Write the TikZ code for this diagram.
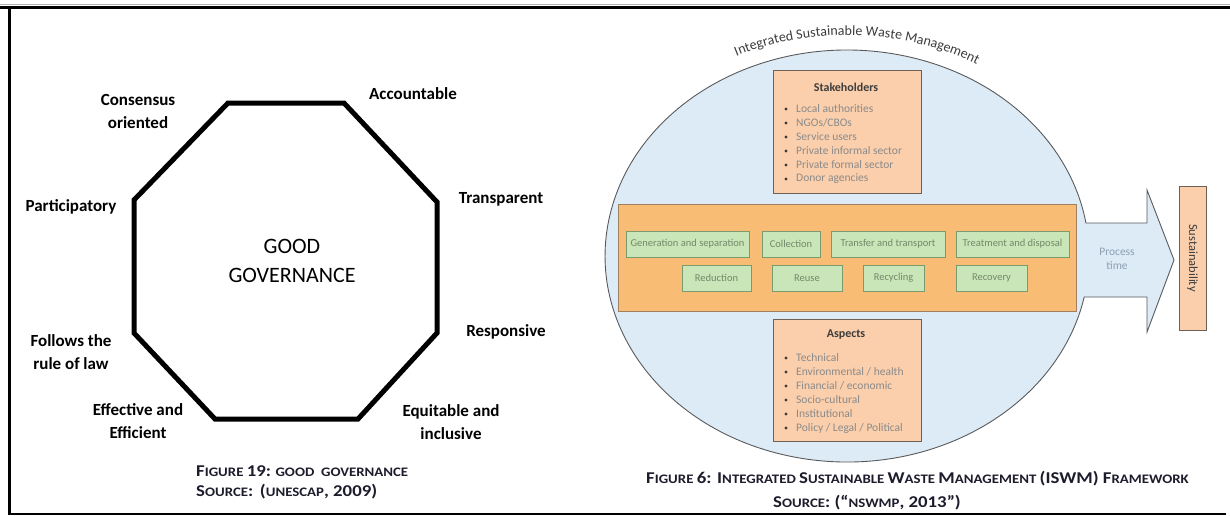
\documentclass[tikz,border=0pt]{standalone}
\usepackage{fontspec}
\setmainfont{Carlito}
\newfontfamily\capfont[FakeStretch=1.14]{Carlito Bold}
\usetikzlibrary{decorations.text}
\definecolor{ellfill}{HTML}{DDEBF7}
\definecolor{ellline}{HTML}{5A5A5A}
\definecolor{bandfill}{HTML}{F8BC74}
\definecolor{bandline}{HTML}{A08060}
\definecolor{peach}{HTML}{FBCFAC}
\definecolor{peachline}{HTML}{6F5F55}
\definecolor{greenfill}{HTML}{C8E6B7}
\definecolor{greenline}{HTML}{7C9A6E}
\definecolor{greentext}{HTML}{74886A}
\definecolor{bullettext}{HTML}{8A8A8A}
\definecolor{darktext}{HTML}{3C3C3C}
\definecolor{captext}{HTML}{1C1C2C}
\definecolor{proctext}{HTML}{8E9FB0}
\newcommand{\fsz}[2]{\fontsize{#1}{#2}\selectfont}
\newcommand{\bigc}[1]{{\fsz{16.5}{17}#1}}
\begin{document}
\begin{tikzpicture}[x=1pt,y=-1pt,
  lbl/.style={font=\fsz{17}{23}\bfseries, align=center, text=black, inner sep=0pt},
  captxt/.style={font=\capfont\fsz{13}{14}, text=captext, inner sep=0pt, anchor=west},
  peachbox/.style={draw=peachline, fill=peach, line width=0.9pt, inner sep=0pt},
  greenbox/.style={draw=greenline, fill=greenfill, line width=1pt, inner sep=0pt,
    minimum height=26pt, font=\fsz{10.5}{12}, text=greentext},
  boxtitle/.style={font=\fsz{12}{14}\bfseries, text=darktext, inner sep=0pt},
  bultxt/.style={font=\fsz{11.5}{13}, text=bullettext, inner sep=0pt, anchor=west},
  buldot/.style={circle, fill=darktext, inner sep=0pt, minimum size=3.3pt}
]
\useasboundingbox (0,0) rectangle (1230,515);
% frame
\draw[line width=1pt, black!30] (0,4.8) -- (1230,4.8);
\draw[line width=3.5pt] (0,7.3) -- (1230,7.3);
\draw[line width=3pt] (9.5,7.3) -- (9.5,513.5);
\draw[line width=2pt] (8,513.6) -- (1226,513.6);

% ---------- left: good governance ----------
\draw[line width=5pt, line join=miter]
  (228,103) -- (344,103) -- (437,202) -- (437,333) -- (358,419)
  -- (215,419) -- (134,333) -- (134,200) -- cycle;
\node[font=\fsz{22}{29}, align=center, inner sep=0pt] (gg) at (292,261) {GOOD\\GOVERNANCE};
\node[lbl] (cons) at (138,111.5) {Consensus\\oriented};
\node[lbl] (acc) at (413,94) {Accountable};
\node[lbl] (tra) at (501,199) {Transparent};
\node[lbl] (par) at (71,207) {Participatory};
\node[lbl] (res) at (506,332) {Responsive};
\node[lbl] (fol) at (71,352) {Follows the\\rule of law};
\node[lbl] (eff) at (138,421.5) {Effective and\\Efficient};
\node[lbl] (equ) at (451,422.5) {Equitable and\\inclusive};
\node[captxt] (capl) at (196,471) {\bigc{F}IGURE \bigc{19:} GOOD\ \ GOVERNANCE};
\node[captxt] (srcl) at (196,492) {\bigc{S}OURCE\bigc{:}\ \ \bigc{(}UNESCAP\bigc{, 2009)}};

% ---------- right: ISWM ----------
\filldraw[fill=ellfill, draw=ellline, line width=0.9pt, line join=miter]
  (1147,223) -- (1147,190) -- (1174,260) -- (1147,332) -- (1147,297)
  -- (1084.2,297) arc[start angle=11.48, end angle=350.78, x radius=242, y radius=206]
  -- cycle;
\path[decorate, decoration={text along path, text align=center, text color=darktext,
  text={|\fsz{14}{14}|Integrated Sustainable Waste Management}}]
  (735.1,56.7) arc[start angle=244.4, end angle=300.4, x radius=259, y radius=221];

\node[peachbox, minimum width=148pt, minimum height=123pt] (stk) at (847,131.5) {};
\node[boxtitle] (stkt) at (846,87) {Stakeholders};
\foreach \t [count=\i from 0] in {Local authorities, NGOs/CBOs, Service users,
    Private informal sector, Private formal sector, Donor agencies}{
  \node[buldot] (sb\i) at (786,{109+14*\i}) {};
  \node[bultxt] (st\i) at (796,{109+14*\i}) {\t};
}

\node[fill=bandfill, draw=bandline, line width=0.8pt, inner sep=0pt,
  minimum width=458pt, minimum height=107pt] (band) at (847,257.5) {};
\node[greenbox, minimum width=123pt] (g1) at (687.5,244) {Generation and separation};
\node[greenbox, minimum width=58pt] (g2) at (791,244) {Collection};
\node[greenbox, minimum width=114pt] (g3) at (888,244) {Transfer and transport};
\node[greenbox, minimum width=113pt] (g4) at (1012.5,244) {Treatment and disposal};
\node[greenbox, minimum width=69pt] (r1) at (716.5,278) {Reduction};
\node[greenbox, minimum width=70pt] (r2) at (807,278) {Reuse};
\node[greenbox, minimum width=61pt] (r3) at (893.5,278) {Recycling};
\node[greenbox, minimum width=71pt] (r4) at (991.5,278) {Recovery};

\node[font=\fsz{11.5}{14}, text=proctext, align=center, inner sep=0pt] (proc) at (1117,259) {Process\\time};

\node[peachbox, minimum width=148pt, minimum height=122pt] (asp) at (847,380) {};
\node[boxtitle] (aspt) at (846,335) {Aspects};
\foreach \t [count=\i from 0] in {Technical, Environmental / health, Financial / economic,
    Socio-cultural, Institutional, Policy / Legal / Political}{
  \node[buldot] (ab\i) at (786,{358+14*\i}) {};
  \node[bultxt] (at\i) at (796,{358+14*\i}) {\t};
}

\node[peachbox, rotate=-90, minimum width=144pt, minimum height=27pt,
  font=\fsz{12.5}{14}, text=darktext] (sus) at (1192.5,258) {Sustainability};

\node[captxt] (capr) at (646,479) {\bigc{F}IGURE \bigc{6: I}NTEGRATED \bigc{S}USTAINABLE \bigc{W}ASTE \bigc{M}ANAGEMENT \bigc{(ISWM) F}RAMEWORK};
\node[captxt] (srcr) at (773,503) {\bigc{S}OURCE\bigc{: (“}NSWMP\bigc{, 2013”)}};
\end{tikzpicture}
\end{document}
